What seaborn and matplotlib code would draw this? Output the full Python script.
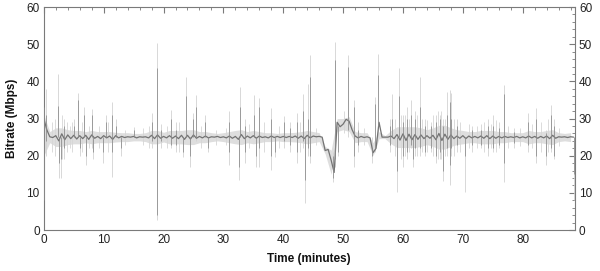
import numpy as np
import pandas as pd
import matplotlib
matplotlib.use("Agg")
import matplotlib.pyplot as plt
import seaborn as sns
from matplotlib.ticker import MultipleLocator

# ---- data ----
# dark (smoothed) trace, one value every 0.5 minute from t=0
dark_step = 0.5
dark_vals = [
    30, 27, 25.1, 24.9, 25.4, 24.0, 25.9, 24.3, 25.6, 24.6,
    25.5, 24.5, 25.4, 24.6, 25.5, 24.4, 25.6, 24.7, 25.2, 24.6,
    25.4, 24.8, 25.3, 24.4, 25.4, 24.8, 25.2, 24.9, 25.1, 25.0,
    25.2, 24.8, 25.1, 25.0, 25.1, 24.8, 25.5, 24.6, 25.6, 24.7,
    25.2, 24.8, 25.4, 24.7, 25.3, 24.6, 25.5, 24.4, 25.5, 24.5,
    25.6, 24.7, 25.2, 24.8, 25.3, 24.8, 25.1, 25.0, 25.2, 24.9,
    25.1, 24.8, 25.3, 24.7, 25.2, 24.4, 25.7, 24.6, 25.3, 24.8,
    25.4, 24.7, 25.3, 24.9, 25.1, 24.8, 25.3, 24.9, 25.2, 24.9,
    25.2, 24.9, 25.2, 24.9, 25.3, 24.7, 25.3, 24.6, 25.5, 24.8,
    25.3, 25.1, 25.2, 25.0, 21.4, 21.7, 18.8, 15.5, 29.0, 27.8,
    28.5, 29.8, 29.3, 27.0, 25.3, 24.8, 25.2, 24.9, 25.1, 24.8,
    20.8, 22.0, 29.0, 25.0, 25.0, 25.0, 25.3, 24.6, 25.7, 24.2,
    25.9, 24.1, 25.8, 24.3, 25.7, 24.4, 25.6, 24.6, 25.4, 24.7,
    25.5, 24.3, 26.0, 24.1, 25.8, 24.4, 25.6, 24.6, 25.3, 24.7,
    25.4, 24.6, 25.3, 24.8, 25.2, 24.8, 25.3, 24.7, 25.4, 24.6,
    25.3, 24.7, 25.2, 24.8, 25.2, 24.9, 25.1, 24.9, 25.2, 24.8,
    25.1, 24.8, 25.3, 24.8, 25.2, 24.7, 25.2, 24.8, 25.3, 24.6,
    25.5, 24.7, 25.1, 25.0, 25.1, 24.9, 25.1, 25.0,
]

# light envelope of the raw signal, one value per minute from t=0
env_hi = [
    31, 26.5, 27.5, 27.5, 27, 26.8, 26.8, 26.5, 26.8, 26.5,
    26.5, 26.5, 26.3, 26.2, 26.2, 26.0, 26.0, 26.2, 26.8, 26.8,
    26.3, 26.8, 26.8, 26.8, 27, 27, 26.5, 26.5, 26.2, 26.0,
    26.2, 26.5, 26.8, 27, 26.5, 26.8, 26.5, 26.2, 26.2, 26.0,
    26.2, 26.2, 26.3, 26.5, 26.8, 26.5, 26.2, 22.5, 21.5, 30,
    30, 30.5, 26.5, 26.2, 26.2, 23.5, 26.5, 25.4, 26.8, 27.8,
    27.8, 27.8, 27.8, 27.5, 27, 27.5, 28.2, 28.2, 27.5, 27,
    26.8, 26.5, 26.5, 26.8, 26.8, 26.8, 26.5, 26.5, 26.2, 26.2,
    26.2, 26.8, 26.5, 26.5, 26.8, 27, 26.2, 26.0, 26.2,
]
env_lo = [
    20, 23.5, 22.5, 22.5, 23, 23.2, 23.2, 23.5, 23.2, 23.5,
    23.5, 23.5, 23.7, 23.8, 23.8, 24.0, 24.0, 23.8, 23.2, 23.2,
    23.7, 23.2, 23.2, 23.2, 23, 23, 23.5, 23.5, 23.8, 24.0,
    23.8, 23.5, 23.2, 23, 23.5, 23.2, 23.5, 23.8, 23.8, 24.0,
    23.8, 23.8, 23.7, 23.5, 23.2, 23.5, 23.8, 20.5, 15, 26.5,
    27, 26.5, 23.5, 23.8, 23.8, 20, 24.6, 24.6, 23.2, 22.2,
    22.2, 22.2, 22.2, 22.5, 23, 22.5, 21.8, 21.8, 22.5, 23,
    23.2, 23.5, 23.5, 23.2, 23.2, 23.2, 23.5, 23.5, 23.8, 23.8,
    23.8, 23.2, 23.5, 23.5, 23.2, 23, 23.8, 24.0, 23.8,
]

# individual spikes: time, light range (raw) and dark range
spike_t = [0.1, 0.3, 2.3, 2.5, 2.9, 3.4, 5.0, 5.7, 6.0, 6.7,
           7.0, 8.1, 8.3, 9.9, 10.4, 11.4, 12.0, 12.9, 15.0, 18.1,
           18.9, 19.6, 21.2, 22.1, 23.3, 23.8, 24.5, 25.0, 25.5, 27.0,
           27.4, 31.0, 32.6, 32.8, 33.6, 35.1, 35.5, 35.9, 37.9, 38.7,
           40.1, 41.2, 42.3, 43.3, 43.7, 44.1, 44.4, 48.3, 48.6, 49.1,
           50.8, 51.8, 52.5, 54.9, 55.3, 55.8, 57.9, 58.2, 59.0, 59.3,
           60.0, 60.6, 61.4, 61.6, 62.0, 62.8, 63.6, 64.6, 65.5, 66.1,
           66.7, 67.3, 67.8, 68.1, 69.0, 70.3, 71.5, 73.0, 74.2, 75.0,
           76.0, 76.8, 78.5, 80.9, 82.2, 83.9, 84.8, 85.3, 88.6]
light_lo = [0, 20, 25, 14, 14, 19, 25, 25, 20, 25,
            17.5, 22, 19, 18, 25, 14.3, 25, 20, 25, 22,
            2.7, 22, 22, 21, 19.7, 25, 17, 25, 24, 25,
            21, 17.5, 13.4, 25, 18, 25, 17, 17, 16.2, 19.7,
            22, 21, 18, 22, 7.2, 20, 18, 13, 17, 19.9,
            25, 17, 21, 18, 21, 25, 21, 25, 10.3, 25,
            17, 19, 22, 17, 20, 20, 20, 21, 18, 19,
            13.2, 20, 12, 20, 21, 10.3, 21, 22, 20, 21,
            22, 13, 22, 21, 18, 17.5, 21, 19.2, 8]
light_hi = [42, 38, 42, 25, 25, 30, 30, 37, 25, 33,
            25, 32.5, 25, 25, 31, 34.5, 30, 25, 27.8, 31.5,
            50.4, 28.5, 32.3, 29, 25, 41.2, 25, 31.4, 36.3, 31,
            25, 31.9, 25, 38.5, 30, 36.3, 25, 35.5, 32.8, 25,
            30.6, 29, 31.4, 36.7, 25, 39.4, 47, 21, 50.6, 29,
            47, 35, 29, 25, 35.8, 47.5, 30, 36.7, 25, 43.5,
            31, 33, 35, 25, 32, 41.3, 30, 29, 31, 31,
            30, 37.2, 37.6, 37, 30, 25, 28, 28.5, 30, 31,
            29, 39, 27.5, 31.4, 32.8, 27, 33.7, 30, 25]
dark_lo = [8, 24, 25, 18, 19, 22, 25, 25, 22, 25,
           20, 25, 21, 21, 25, 21, 25, 22, 25, 24,
           4, 24, 23, 23, 21, 25, 20, 25, 25, 25,
           22, 21, 17, 25, 21, 25, 20, 22, 20, 21,
           24, 23, 21, 24, 13.4, 22, 20, 14, 19, 21,
           27, 20, 23, 20, 22, 28, 23, 25, 16, 25,
           20, 21, 23, 19, 22, 22, 21, 22, 20, 21,
           16, 22, 17.5, 22, 23, 20, 23, 23, 22, 22,
           23, 18, 23.5, 23, 20, 20, 22, 20, 15]
dark_hi = [33, 31, 33.5, 25, 25, 28, 28, 35, 25, 31,
           25, 31, 25, 25, 29, 31, 28, 25, 27, 29,
           43.5, 27, 30, 27, 25, 36, 25, 30, 33, 29,
           25, 29, 25, 33, 28, 31, 25, 33, 30, 25,
           29, 27.5, 29, 32, 25, 30, 41.2, 20, 45.7, 28,
           44, 33, 27, 22, 34, 41.7, 28, 30, 25, 36,
           29, 30, 31, 25, 30, 33, 28, 28, 29, 30,
           28, 31, 34.5, 30, 28, 25, 27, 27, 28, 28,
           27.5, 36.5, 26.5, 29, 30, 26, 31, 28, 25]

# smaller flicker of the raw signal (light only)
minor_t = [1.3, 1.8, 3.1, 3.8, 4.3, 4.7, 6.3, 7.5, 9.2, 10.8,
           13.5, 16.5, 17.6, 20.5, 22.6, 26.2, 28.8, 30.4, 34.2, 36.8,
           39.3, 42.8, 45.5, 50.2, 53.5, 58.6, 59.7, 60.3, 61.0, 62.4,
           63.2, 64.0, 65.0, 65.8, 66.4, 67.0, 68.6, 69.5, 71.0, 72.3,
           73.6, 74.7, 75.6, 77.5, 79.5, 81.6, 83.1, 84.3, 86.0]
minor_lo = [21, 20, 19, 21, 22, 21, 21, 22, 22, 21,
            23, 23, 22, 22, 21, 22, 23, 23, 22, 21,
            22, 21, 23, 26, 23, 20, 19, 20, 21, 20,
            21, 21, 20, 19, 19, 20, 20, 21, 22, 22,
            21, 22, 21, 22, 22.5, 22, 21, 21, 22.5]
minor_hi = [29, 30, 31, 29, 28, 29, 29, 28, 28, 29,
            27, 27.5, 28, 28, 29, 28, 27, 27.5, 28.5, 29,
            28, 29, 27.5, 32, 27.5, 30, 31, 31, 30, 31,
            30, 29.5, 31, 32, 32, 30, 30, 29, 28.5, 28,
            29, 28.5, 29.5, 28, 27.5, 28.5, 29, 30, 27.5]

x_ticks = [0, 10, 20, 30, 40, 50, 60, 70, 80]
y_ticks = [0, 10, 20, 30, 40, 50, 60]

# ---- build frames ----
dark_df = pd.DataFrame({"t": np.arange(len(dark_vals)) * dark_step,
                        "v": dark_vals})
env_t = np.arange(len(env_hi)) * 1.0

# ---- plot ----
sns.set_style("white")
plt.rcParams["font.family"] = ["Liberation Sans", "DejaVu Sans"]

fig = plt.figure(figsize=(6.0, 2.71), dpi=100)
ax = fig.add_axes([0.073, 0.151, 0.885, 0.823])

light_c = "#d2d2d2"
dark_c = "#737373"

ax.fill_between(env_t, env_lo, env_hi, color="#dedede", lw=0, zorder=1)
ax.vlines(minor_t, minor_lo, minor_hi, colors="#d6d6d6", lw=0.6, zorder=2)
ax.vlines(spike_t, light_lo, light_hi, colors=light_c, lw=0.6, zorder=2)
sns.lineplot(data=dark_df, x="t", y="v", ax=ax, color=dark_c, lw=0.9,
             zorder=3)
ax.vlines(spike_t, dark_lo, dark_hi, colors="#8a8a8a", lw=0.55, zorder=4)

ax.set_xlim(0, 88.7)
ax.set_ylim(0, 60)
ax.set_xticks(x_ticks)
ax.set_yticks(y_ticks)
ax.xaxis.set_minor_locator(MultipleLocator(2))
ax.yaxis.set_minor_locator(MultipleLocator(2))

for s in ax.spines.values():
    s.set_color("#7a7a7a")
    s.set_linewidth(0.8)
    s.set_visible(True)

ax.tick_params(which="both", direction="in", top=True, right=True,
               labelright=True, colors="#7a7a7a", labelcolor="#222222",
               labelsize=8.5, pad=3)
ax.tick_params(which="major", length=4, width=0.8)
ax.tick_params(which="minor", length=2, width=0.6)

ax.set_xlabel("Time (minutes)", fontsize=8.5, fontweight="bold",
              color="#111111", labelpad=5)
ax.set_ylabel("Bitrate (Mbps)", fontsize=8.5, fontweight="bold",
              color="#111111", labelpad=6)

fig.savefig("out.png", dpi=100)
